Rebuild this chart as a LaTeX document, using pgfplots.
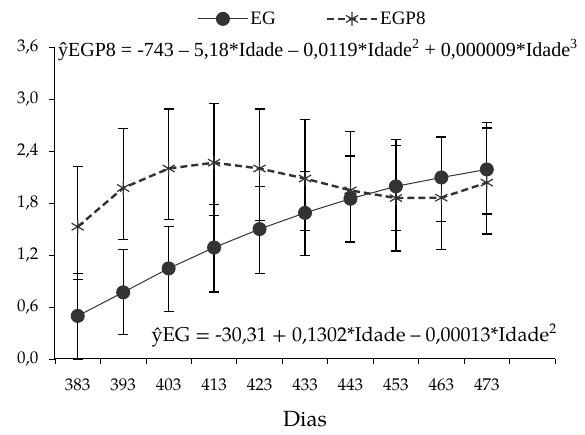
\documentclass[border=0pt]{standalone}
\usepackage{fontspec}
\setmainfont{TeX Gyre Pagella}
\newfontfamily\timesf{Liberation Serif}
\usepackage{pgfplots}
\pgfplotsset{compat=1.18}

\definecolor{serieGray}{HTML}{333333}

\pgfplotstableread{
x y ep em
0 0.497 0.490 0.497
1 0.769 0.497 0.485
2 1.045 0.486 0.501
3 1.286 0.493 0.512
4 1.499 0.491 0.512
5 1.686 0.481 0.496
6 1.849 0.493 0.498
7 1.992 0.474 0.512
8 2.094 0.466 0.509
9 2.187 0.477 0.513
}\egdata

\pgfplotstableread{
x y ep em
0 1.526 0.692 0.609
1 1.973 0.683 0.598
2 2.198 0.688 0.590
3 2.265 0.679 0.611
4 2.198 0.688 0.598
5 2.082 0.679 0.602
6 1.946 0.680 0.595
7 1.857 0.679 0.610
8 1.861 0.699 0.595
9 2.035 0.696 0.594
}\egpdata

\begin{document}
\begin{tikzpicture}
\begin{axis}[
	scale only axis,
	width=500pt,
	height=312pt,
	xmin=-0.5, xmax=10.5,
	ymin=0, ymax=3.6,
	axis lines*=left,
	axis line style={line width=1pt},
	xtick={0,...,9},
	xticklabels={383,393,403,413,423,433,443,453,463,473},
	minor xtick={-0.5,0.5,...,10.5},
	major x tick style={draw=none},
	minor tick length=5pt,
	ytick={0,0.6,...,3.6},
	major tick length=6pt,
	tick align=outside,
	tick style={black,line width=0.8pt},
	y tick label style={xshift=-7pt,/pgf/number format/.cd,use comma,fixed,fixed zerofill,precision=1,assume math mode=true},
	tick label style={font=\fontsize{17}{19}\selectfont},
	xticklabel style={yshift=-10pt},
	xlabel={Dias},
	xlabel style={font=\fontsize{22}{24}\selectfont,yshift=-14pt},
	clip=false,
	legend style={draw=none,fill=none,legend columns=2,
		font=\timesf\fontsize{19}{21}\selectfont,
		at={(axis description cs:0.515,1.09)},anchor=center,
		/tikz/every even column/.append style={column sep=48pt}},
	legend image code/.code={
		\draw[mark repeat=2,mark phase=2,#1] plot coordinates {(0pt,0pt) (25pt,0pt) (50pt,0pt)};},
]
\addplot[serieGray,line width=1pt,mark=*,mark size=6.5pt,
	mark options={solid,fill=serieGray},
	error bars/.cd,y dir=both,y explicit,
	error bar style={black,line width=1.3pt,solid},
	error mark options={rotate=90,mark size=5pt,line width=1.3pt,black}]
	table[x=x,y=y,y error plus=ep,y error minus=em]{\egdata};
\addlegendentry{EG}
\addplot[serieGray,line width=2.4pt,dash pattern=on 7pt off 4pt,mark=asterisk,mark size=7pt,
	mark options={solid,line width=1.2pt},
	error bars/.cd,y dir=both,y explicit,
	error bar style={black,line width=1.3pt,solid},
	error mark options={rotate=90,mark size=5pt,line width=1.3pt,black}]
	table[x=x,y=y,y error plus=ep,y error minus=em]{\egpdata};
\addlegendentry{EGP8}

\node[anchor=west,font=\timesf\fontsize{20}{22}\selectfont,inner sep=0pt]
	at (axis description cs:0.006,0.99) {ŷEGP8 = -743 – 5,18*Idade – 0,0119*Idade\textsuperscript{2} + 0,000009*Idade\textsuperscript{3}};
\node[anchor=east,font=\fontsize{20}{22}\selectfont,inner sep=0pt]
	at (axis description cs:1.004,0.076) {ŷEG = -30,31 + 0,1302*Idade – 0,00013*Idade\textsuperscript{2}};

\coordinate (bl) at (axis description cs:-0.11,-0.2436);
\coordinate (tr) at (axis description cs:1.06,1.1506);
\end{axis}
\pgfresetboundingbox
\path (bl) rectangle (tr);
\end{tikzpicture}
\end{document}
